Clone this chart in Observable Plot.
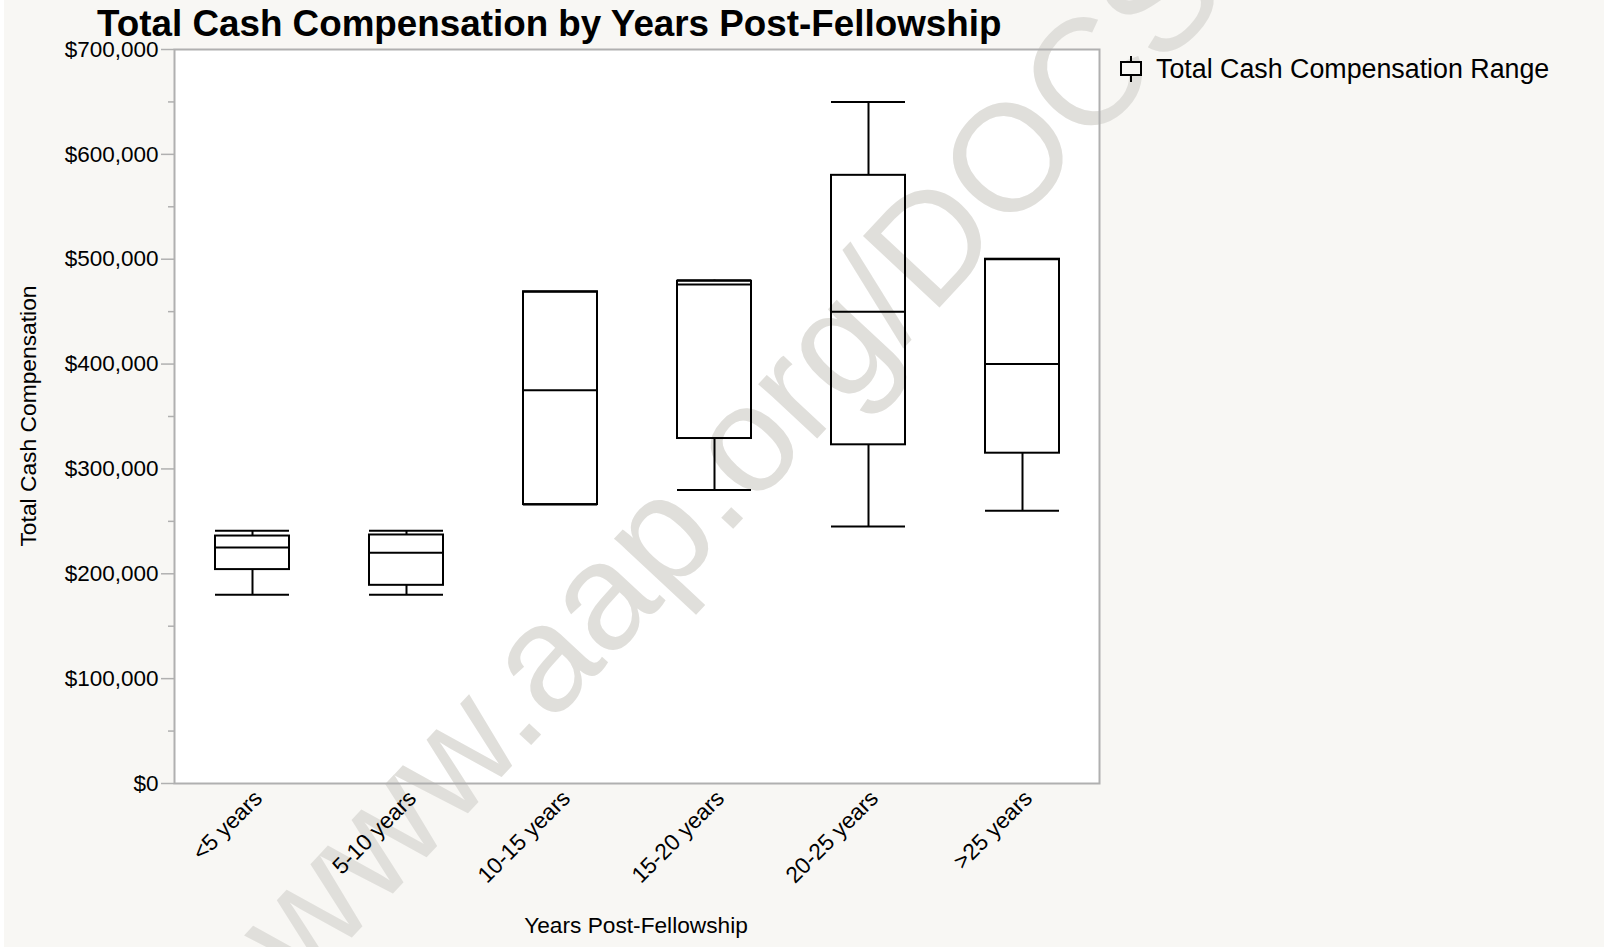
<!DOCTYPE html>
<html>
<head>
<meta charset="utf-8">
<script src="https://cdn.jsdelivr.net/npm/d3@7"></script>
<script src="https://cdn.jsdelivr.net/npm/@observablehq/plot@0.6"></script>
<style>
  html, body { margin: 0; padding: 0; background: #ffffff; }
  #page { position: relative; width: 1604px; height: 947px; background: #f8f7f4; overflow: hidden;
          font-family: "Liberation Sans", Arial, Helvetica, sans-serif; color: #000; }
  #chart { position: absolute; left: 0; top: 0; }
  #strip { position: absolute; left: 0; top: 0; width: 4px; height: 947px; background: #ffffff; }
  .abs { position: absolute; white-space: nowrap; }
  #title { left: 97px; top: 6px; font-size: 36.8px; line-height: 36.8px; font-weight: bold; }
  #ylabel { left: 28px; top: 416px; font-size: 22.8px; line-height: 22.8px; transform: translate(-50%, -50%) rotate(-90deg); }
  #xlabel { left: 636px; top: 914px; font-size: 22.7px; line-height: 22.7px; transform: translateX(-50%); }
  #legend { left: 1119px; top: 55px; font-size: 26.8px; line-height: 26.8px; display: flex; align-items: center; }
  #legend svg { margin-right: 13px; }
</style>
</head>
<body>
<div id="page">
  <div id="chart"></div>
  <div id="strip"></div>
  <div id="title" class="abs">Total Cash Compensation by Years Post-Fellowship</div>
  <div id="ylabel" class="abs">Total Cash Compensation</div>
  <div id="xlabel" class="abs">Years Post-Fellowship</div>
  <div id="legend" class="abs">
    <svg width="24" height="28" viewBox="0 0 24 28">
      <line x1="12" y1="1" x2="12" y2="27" stroke="#000" stroke-width="2"/>
      <rect x="2" y="7" width="20" height="13" fill="#f8f7f4" stroke="#000" stroke-width="2"/>
    </svg>
    <span>Total Cash Compensation Range</span>
  </div>
</div>
<script>
// Data (values in dollars)
const categories = ["<5 years", "5-10 years", "10-15 years", "15-20 years", "20-25 years", ">25 years"];
const minValues    = [180000, 180000, 266000, 280000, 245000, 260000];
const q1Values     = [204000, 189000, 266000, 329000, 323000, 315000];
const medianValues = [225000, 220000, 375000, 476000, 450000, 400000];
const q3Values     = [236000, 237000, 469000, 479000, 580000, 500000];
const maxValues    = [241000, 241000, 469000, 480000, 650000, 500000];
const yTicks = [0, 100000, 200000, 300000, 400000, 500000, 600000, 700000];
const yMinorTicks = [50000, 150000, 250000, 350000, 450000, 550000, 650000];

const rows = categories.map((c, i) => ({
  cat: c, min: minValues[i], q1: q1Values[i], median: medianValues[i], q3: q3Values[i], max: maxValues[i]
}));

const ink = "#000000";
const gray = "#b0b0b0";
const lw = 2;

const chart = Plot.plot({
  width: 1604,
  height: 947,
  marginLeft: 174,
  marginRight: 505,
  marginTop: 49,
  marginBottom: 164,
  style: { background: "transparent", fontFamily: "Liberation Sans, Arial, sans-serif", fontSize: "22.5px", color: "#000" },
  x: { type: "band", domain: categories, paddingInner: 0.52, paddingOuter: 0.26, label: null },
  y: { domain: [0, 700000], label: null },
  marks: [
    Plot.frame({ fill: "white", stroke: null }),
    Plot.ruleX(rows, { x: "cat", y1: "q3", y2: "max", stroke: ink, strokeWidth: lw }),
    Plot.ruleX(rows, { x: "cat", y1: "min", y2: "q1", stroke: ink, strokeWidth: lw }),
    Plot.barY(rows, { x: "cat", y1: "q1", y2: "q3", fill: "none", stroke: ink, strokeWidth: lw }),
    Plot.tickY(rows, { x: "cat", y: "median", stroke: ink, strokeWidth: lw }),
    Plot.tickY(rows, { x: "cat", y: "max", stroke: ink, strokeWidth: lw }),
    Plot.tickY(rows, { x: "cat", y: "min", stroke: ink, strokeWidth: lw }),
    Plot.axisY({ ticks: yTicks, tickFormat: d3.format("$,"), tickSize: 13, tickPadding: 3, stroke: gray, strokeWidth: 1.5, fill: "#000", fontSize: 22.5, label: null }),
    Plot.axisY({ ticks: yMinorTicks, tickFormat: () => "", tickSize: 6, stroke: gray, strokeWidth: 1.5, label: null }),
    Plot.axisX({ tickSize: 0, tickRotate: -45, tickPadding: 11, dx: 6, fill: "#000", fontSize: 22.7, label: null }),
    Plot.frame({ stroke: gray, strokeWidth: 2, fill: "none" })
  ]
});

document.getElementById("chart").appendChild(chart);

// Decorative watermark, placed just above the white plot background
const ns = "http://www.w3.org/2000/svg";
const wm = document.createElementNS(ns, "text");
wm.setAttribute("transform", "translate(303,990) rotate(-47)");
wm.setAttribute("text-anchor", "start");
wm.setAttribute("font-family", "Liberation Sans, Arial, sans-serif");
wm.setAttribute("font-size", "152");
wm.setAttribute("fill", "#e0dfdb");
wm.textContent = "www.aap.org/DOCS";
const firstFrame = chart.querySelector('[aria-label="frame"]');
if (firstFrame) firstFrame.after(wm); else chart.insertBefore(wm, chart.firstChild);
</script>
</body>
</html>
